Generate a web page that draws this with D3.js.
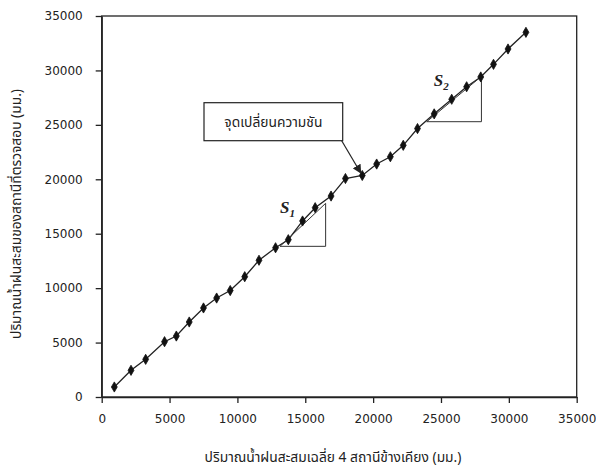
<!DOCTYPE html>
<html>
<head>
<meta charset="utf-8">
<script src="https://cdn.jsdelivr.net/npm/d3@7"></script>
<style>
  body { margin: 0; background: #fff; }
  svg { display: block; }
  .axis text { font-family: "DejaVu Sans", Verdana, sans-serif; font-size: 12px; fill: #222; }
  .axis path, .axis line { stroke: #222; stroke-width: 1.3; }
  .title { font-family: Tahoma, "Noto Sans Thai", "Noto Sans", sans-serif; font-size: 13.8px; fill: #222; }
</style>
</head>
<body>
<div id="chart"></div>
<script>
// accumulated rainfall of 4 neighbouring stations (x) vs the station checked (y), mm
var xValues = [930, 2160, 3240, 4630, 5500, 6450, 7500, 8470, 9470, 10540,
               11590, 12810, 13750, 14800, 15730, 16900, 17960, 19200, 20260, 21270,
               22220, 23270, 24500, 25790, 26890, 27930, 28870, 29940, 31260];
var yValues = [920, 2450, 3460, 5080, 5600, 6890, 8180, 9090, 9780, 11050,
               12560, 13710, 14450, 16170, 17390, 18460, 20070, 20350, 21400, 22070,
               23120, 24660, 26010, 27350, 28500, 29400, 30560, 31970, 33500];
var xTicks = [0, 5000, 10000, 15000, 20000, 25000, 30000, 35000];
var yTicks = [0, 5000, 10000, 15000, 20000, 25000, 30000, 35000];

// slope triangles: [x0, y0] lower-left, [x1, y1] upper-right
var s1Triangle = [[13140, 13840], [16500, 17790]];
var s2Triangle = [[23950, 25290], [27980, 29460]];
var breakPoint = [19200, 20350];
var breakLabel = "จุดเปลี่ยนความชัน";
var xTitle = "ปริมาณน้ำฝนสะสมเฉลี่ย 4 สถานีข้างเคียง (มม.)";
var yTitle = "ปริมาณน้ำฝนสะสมของสถานีที่ตรวจสอบ (มม.)";

var width = 596, height = 471;
var margin = {top: 16, right: 19.3, bottom: 74, left: 101.7};
var plotW = width - margin.left - margin.right;
var plotH = height - margin.top - margin.bottom;

var svg = d3.select("#chart").append("svg")
    .attr("width", width)
    .attr("height", height);

var defs = svg.append("defs");
defs.append("marker")
    .attr("id", "arrow")
    .attr("viewBox", "0 0 10 10")
    .attr("refX", 9).attr("refY", 5)
    .attr("markerWidth", 9).attr("markerHeight", 9)
    .attr("markerUnits", "userSpaceOnUse")
    .attr("orient", "auto")
  .append("path")
    .attr("d", "M0,0 L10,5 L0,10 z")
    .attr("fill", "#222");

var g = svg.append("g")
    .attr("transform", "translate(" + margin.left + "," + margin.top + ")");

var x = d3.scaleLinear().domain([0, 35000]).range([0, plotW]);
var y = d3.scaleLinear().domain([0, 35000]).range([plotH, 0]);

// frame
g.append("rect")
    .attr("width", plotW).attr("height", plotH)
    .attr("fill", "none").attr("stroke", "#222").attr("stroke-width", 1.3);

var xAxis = g.append("g")
    .attr("class", "axis")
    .attr("transform", "translate(0," + plotH + ")")
    .call(d3.axisBottom(x).tickValues(xTicks).tickSize(6).tickPadding(11).tickSizeOuter(0).tickFormat(d3.format("d")));

var yAxis = g.append("g")
    .attr("class", "axis")
    .call(d3.axisLeft(y).tickValues(yTicks).tickSize(6).tickPadding(13).tickSizeOuter(0).tickFormat(d3.format("d")));

// data line
var pts = xValues.map(function(d, i) { return [d, yValues[i]]; });
var line = d3.line()
    .x(function(d) { return x(d[0]); })
    .y(function(d) { return y(d[1]); });

g.append("path")
    .datum(pts)
    .attr("fill", "none")
    .attr("stroke", "#222")
    .attr("stroke-width", 1.3)
    .attr("d", line);

// slope triangles
function triangle(t) {
    var x0 = x(t[0][0]), y0 = y(t[0][1]), x1 = x(t[1][0]), y1 = y(t[1][1]);
    return "M" + x0 + "," + y0 + "L" + x1 + "," + y0 + "L" + x1 + "," + y1 + "Z";
}
[s1Triangle, s2Triangle].forEach(function(t) {
    g.append("path")
        .attr("d", triangle(t))
        .attr("fill", "none")
        .attr("stroke", "#333")
        .attr("stroke-width", 1);
});

// markers
g.selectAll(".pt")
    .data(pts)
    .enter()
  .append("path")
    .attr("class", "pt")
    .attr("transform", function(d) { return "translate(" + x(d[0]) + "," + y(d[1]) + ")"; })
    .attr("d", d3.symbol().type(d3.symbolDiamond).size(30))
    .attr("fill", "#111")
    .attr("stroke", "#111")
    .attr("stroke-width", 0.8)
    .attr("stroke-linejoin", "round");

// S labels
function slopeLabel(px, py, sub) {
    var t = g.append("text")
        .attr("x", px).attr("y", py)
        .attr("font-family", "'Liberation Serif', 'Times New Roman', serif")
        .attr("font-style", "italic")
        .attr("font-weight", "bold")
        .attr("font-size", 17)
        .attr("fill", "#222");
    t.append("tspan").text("S");
    t.append("tspan").attr("font-size", 11).attr("dy", 4).text(sub);
}
slopeLabel(x(s1Triangle[0][0]) + 0, y(s1Triangle[1][1]) + 10, "1");
slopeLabel(x(s2Triangle[0][0]) + 7, y(s2Triangle[1][1]) + 10, "2");

// break point annotation
var boxX = 102.3, boxY = 86.7, boxW = 138.7, boxH = 38;
g.append("rect")
    .attr("x", boxX).attr("y", boxY)
    .attr("width", boxW).attr("height", boxH)
    .attr("fill", "#fff").attr("stroke", "#222").attr("stroke-width", 1.2);
g.append("text")
    .attr("class", "title")
    .attr("x", boxX + boxW / 2).attr("y", boxY + boxH / 2 + 5)
    .attr("text-anchor", "middle")
    .text(breakLabel);
g.append("line")
    .attr("x1", boxX + boxW - 1).attr("y1", boxY + boxH)
    .attr("x2", x(breakPoint[0]) - 1.5).attr("y2", y(breakPoint[1]) - 2.5)
    .attr("stroke", "#222").attr("stroke-width", 1.2)
    .attr("marker-end", "url(#arrow)");

// axis titles
svg.append("text")
    .attr("class", "title")
    .attr("x", 333).attr("y", 462)
    .attr("text-anchor", "middle")
    .text(xTitle);

svg.append("text")
    .attr("class", "title")
    .attr("transform", "translate(21,214) rotate(-90)")
    .attr("text-anchor", "middle")
    .text(yTitle);
</script>
</body>
</html>
